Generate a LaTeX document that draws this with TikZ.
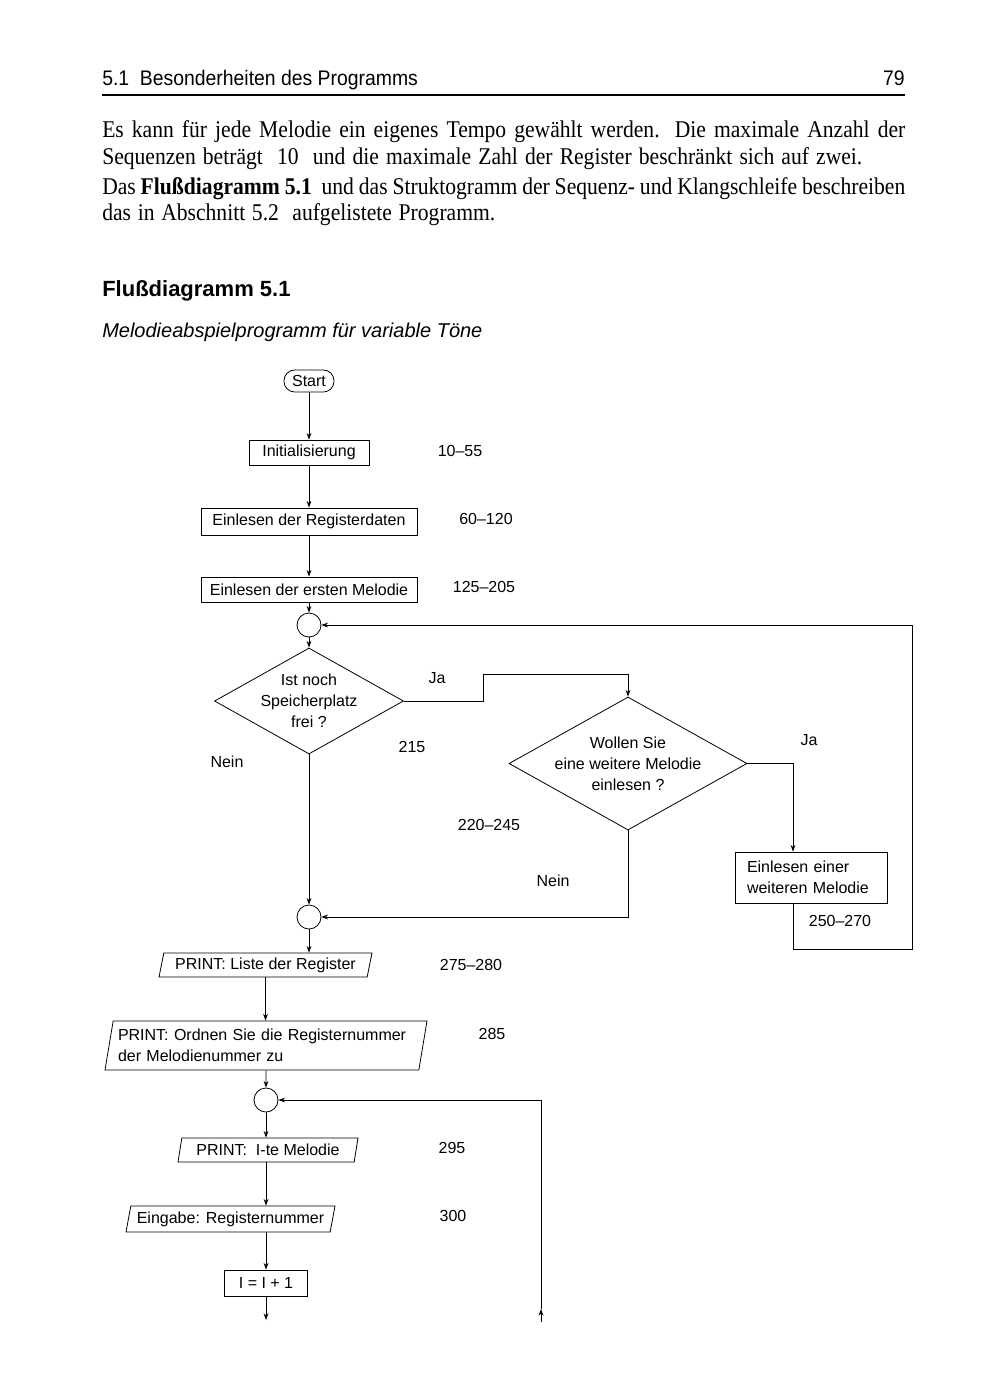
\documentclass[tikz,border=0pt]{standalone}
\usepackage{fontspec}
\setmainfont{Liberation Serif}[FakeStretch=0.9]
\setsansfont{Liberation Sans}
\newfontfamily\hdrfont{Liberation Sans}[FakeStretch=0.92]
\usetikzlibrary{shapes.geometric,arrows.meta}
\begin{document}
\begin{tikzpicture}[x=0.75pt,y=-0.75pt,
  flow/.style={font=\sffamily\fontsize{12}{15.75}\selectfont},
  box/.style={flow,draw,rectangle,inner sep=0pt,line width=0.6pt},
  io/.style={flow,draw,trapezium,trapezium left angle=72,trapezium right angle=108,trapezium stretches body,inner sep=0pt,line width=0.6pt},
  junc/.style={draw,circle,minimum size=18pt,inner sep=0pt,line width=0.6pt},
  dec/.style={draw,diamond,inner sep=0pt,line width=0.6pt},
  lbl/.style={flow},
  con/.style={line width=0.6pt},
  arr/.style={con,-{Stealth[length=5pt,width=3.6pt]}},
  body/.style={anchor=base west,inner sep=0pt,font=\fontsize{18}{20}\selectfont},
]
\useasboundingbox (0,0) rectangle (1000,1400);
\fill[white] (0,0) rectangle (1000,1400);

% header
\node[anchor=base west,inner sep=0pt,font=\hdrfont\fontsize{15.8}{18}\selectfont] (hd) at (102,85) {5.1\ \ Besonderheiten des Programms};
\node[anchor=base east,inner sep=0pt,font=\hdrfont\fontsize{15.8}{18}\selectfont] (pg) at (905,85) {79};
\draw[line width=1.3pt] (102,95) -- (905,95);

% body text
\node[body] (l1) at (102,137) {\makebox[602.25pt][s]{Es kann für jede Melodie ein eigenes Tempo gewählt werden. Die maximale Anzahl der}};
\node[body] (l2) at (102,164) {\makebox[570pt][s]{Sequenzen beträgt\ \ 10\ \ und die maximale Zahl der Register beschränkt sich auf zwei.}};
\node[body] (l3) at (102,194) {\makebox[602.25pt][s]{Das \textbf{Flußdiagramm 5.1}\ \ und das Struktogramm der Sequenz- und Klangschleife beschreiben}};
\node[body] (l4) at (102,220) {\makebox[294.75pt][s]{das in Abschnitt 5.2\ \ aufgelistete Programm.}};

\node[anchor=base west,inner sep=0pt,font=\sffamily\bfseries\fontsize{16.5}{19}\selectfont] (title) at (102,296) {Flußdiagramm 5.1};
\node[anchor=base west,inner sep=0pt,font=\sffamily\itshape\fontsize{15}{17}\selectfont] (sub) at (102,337) {Melodieabspielprogramm für variable Töne};

% flowchart nodes
\node[box,rounded corners=8pt,minimum width=37.5pt,minimum height=16.5pt] (start) at (309,381) {Start};
\node[box,minimum width=90pt,minimum height=18.75pt] (init) at (309,452.5) {Initialisierung};
\node[box,minimum width=162pt,minimum height=20.25pt] (reg) at (309,521.5) {Einlesen der Registerdaten};
\node[box,minimum width=162pt,minimum height=18.75pt] (erste) at (309,589.5) {Einlesen der ersten Melodie};
\node[junc] (c1) at (309,625) {};
\node[dec,minimum width=141.75pt,minimum height=79.5pt] (d1) at (309,701) {};
\node[flow,align=center] (t1) at (d1) {Ist noch\\Speicherplatz\\frei ?};
\node[dec,minimum width=178.5pt,minimum height=99.75pt] (d2) at (628,763.5) {};
\node[flow,align=center] (t2) at (d2) {Wollen Sie\\eine weitere Melodie\\einlesen ?};
\node[box,minimum width=114pt,minimum height=38.25pt,text width=96pt,align=left] (bw) at (811,877.5) {Einlesen einer\\weiteren Melodie};
\node[junc] (c2) at (309,917) {};
\node[io,minimum width=159.75pt,minimum height=18pt] (p1) at (265.5,965) {PRINT: Liste der Register};
\node[io,minimum width=241.5pt,minimum height=36.75pt,text width=222pt,align=left,trapezium left angle=76,trapezium right angle=104] (p2) at (266,1045.5) {PRINT: Ordnen Sie die Registernummer\\der Melodienummer zu};
\node[junc] (c3) at (266,1100) {};
\node[io,minimum width=135pt,minimum height=18pt] (p3) at (268,1150) {PRINT:\ \ I-te Melodie};
\node[io,minimum width=156.75pt,minimum height=19.5pt] (p4) at (230.5,1219) {Eingabe: Registernummer};
\node[box,minimum width=62.25pt,minimum height=19.5pt] (b5) at (266,1283) {I = I + 1};

% line number labels
\node[lbl] (n1) at (460,451) {10\textendash 55};
\node[lbl] (n2) at (486,519) {60\textendash 120};
\node[lbl] (n3) at (484,587) {125\textendash 205};
\node[lbl] (ja1) at (437,678) {Ja};
\node[lbl] (n4) at (412,747) {215};
\node[lbl] (nein1) at (227,762) {Nein};
\node[lbl] (ja2) at (809,740) {Ja};
\node[lbl] (n5) at (489,825) {220\textendash 245};
\node[lbl] (nein2) at (553,881) {Nein};
\node[lbl] (n6) at (840,921) {250\textendash 270};
\node[lbl] (n7) at (471,965) {275\textendash 280};
\node[lbl] (n8) at (492,1034) {285};
\node[lbl] (n9) at (452,1148) {295};
\node[lbl] (n10) at (453,1216) {300};

% coordinates
\coordinate (j1) at (483,701);
\coordinate (j2) at (483,674);
\coordinate (j3) at (628,674);
\coordinate (bx) at (793,0);
\coordinate (r1) at (793,949);
\coordinate (r2) at (912,949);
\coordinate (r3) at (912,625);
\coordinate (m1) at (628,917);
\coordinate (out) at (266,1320);
\coordinate (in) at (541,1322);
\coordinate (intip) at (541,1309);

% connectors
\draw[arr] (start) -- (init);
\draw[arr] (init) -- (reg);
\draw[arr] (reg) -- (erste);
\draw[arr] (erste) -- (c1);
\draw[arr] (c1) -- (d1.north);
\draw[arr] (d1.east) -- (j1) -- (j2) -- (j3) -- (d2.north);
\draw[arr] (d2.east) -| (bx |- bw.north);
\draw[arr] (bx |- bw.south) -- (r1) -- (r2) -- (r3) -- (c1.east);
\draw[arr] (d2.south) -- (m1) -- (c2.east);
\draw[arr] (d1.south) -- (c2.north);
\draw[arr] (c2.south) -- (c2.south |- p1.north);
\draw[arr] (p1.south) -- (p1.south |- p2.north);
\draw[arr] (p2.south) -- (c3.north);
\draw[arr] (c3.south) -- (c3.south |- p3.north);
\draw[arr] (c3 |- p3.south) -- (c3 |- p4.north);
\draw[arr] (c3 |- p4.south) -- (b5.north);
\draw[arr] (b5.south) -- (out);
\draw[arr] (in) -- (intip);
\draw[arr] (intip) |- (c3.east);
\end{tikzpicture}
\end{document}
